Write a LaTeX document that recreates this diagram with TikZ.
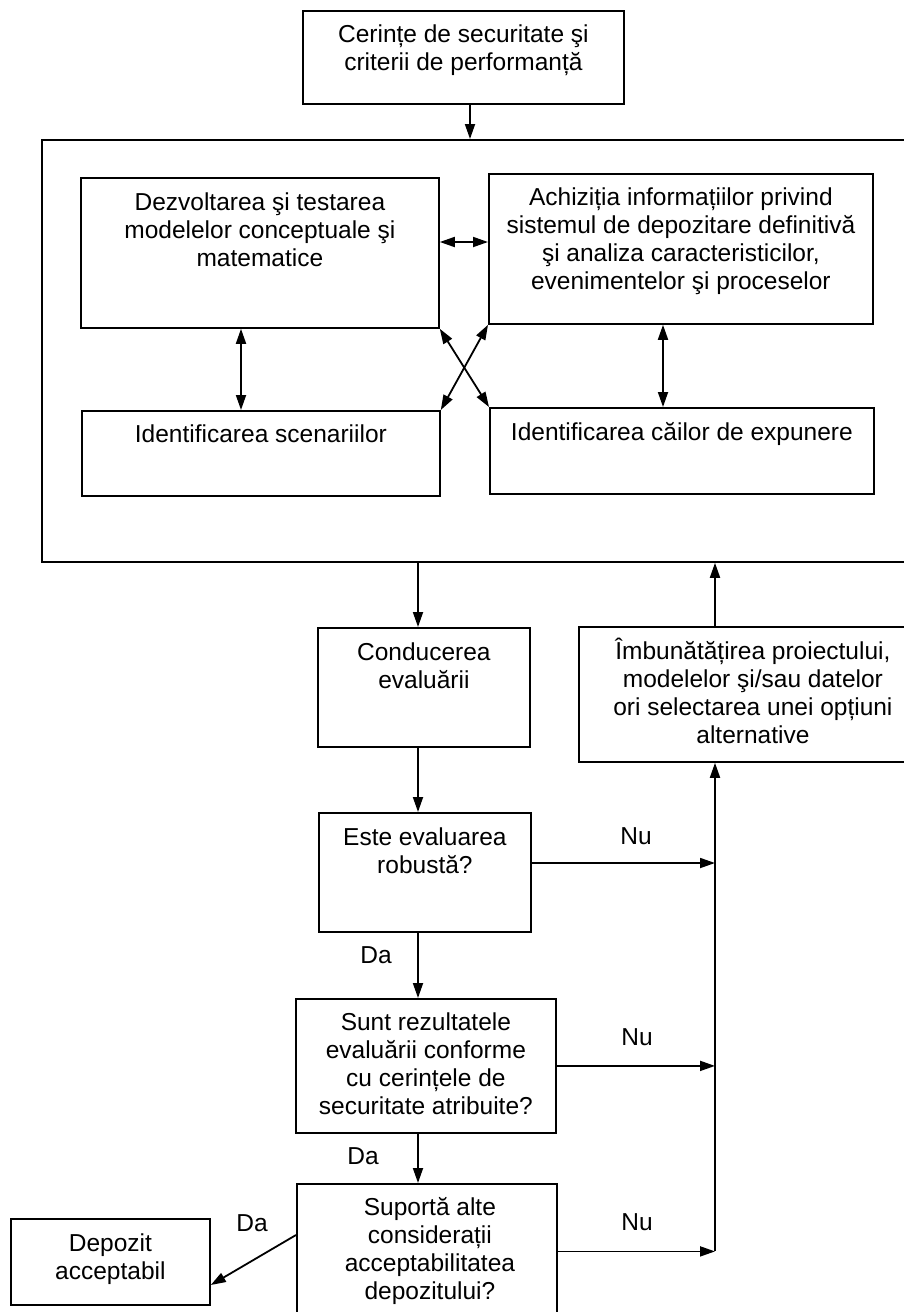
\documentclass[tikz,border=0pt]{standalone}
\usepackage{fontspec}
\setmainfont{Liberation Sans}
\usetikzlibrary{arrows.meta,positioning}

\begin{document}
\begin{tikzpicture}[x=1pt,y=-1pt,line width=1.8pt,
  box/.style={draw,inner sep=0pt,anchor=north west},
  txt/.style={font=\fontsize{24.5}{28}\selectfont,align=center,inner sep=0pt},
  >={Triangle[length=15pt,width=10pt]}]
\useasboundingbox (0,0) rectangle (904,1312);

% columns and rows used by the connectors
\coordinate (sus) at (470,0);
\coordinate (colA) at (241,0);
\coordinate (colB) at (663,0);
\coordinate (spine) at (418,0);
\coordinate (back) at (715,0);
\coordinate (rowAB) at (0,242);
\coordinate (rowE) at (0,863);
\coordinate (daA) at (0,1235);
\coordinate (daB) at (0,1285);

% top
\node[box,minimum width=321pt,minimum height=93pt] (cerinte) at (302,10) {};
\node[txt,below=14pt of cerinte.north] (cerintetxt) {Cerințe de securitate şi\\criterii de performanță};

% frame with the four boxes
\node[box,minimum width=866pt,minimum height=422pt] (cadru) at (41,139) {};
\node[box,minimum width=358pt,minimum height=150pt] (dezv) at (80,177) {};
\node[txt,below=15pt of dezv.north] (dezvtxt) {Dezvoltarea şi testarea\\modelelor conceptuale şi\\matematice};
\node[box,minimum width=384pt,minimum height=150pt] (achiz) at (488,173) {};
\node[txt,below=14pt of achiz.north] (achiztxt) {Achiziția informațiilor privind\\sistemul de depozitare definitivă\\şi analiza caracteristicilor,\\evenimentelor şi proceselor};
\node[box,minimum width=358pt,minimum height=85pt] (scen) at (81,410) {};
\node[txt,below=14pt of scen.north] (scentxt) {Identificarea scenariilor};
\node[box,minimum width=384pt,minimum height=86pt] (cai) at (489,407) {};
\node[txt,below=15pt of cai.north] (caitxt) {Identificarea căilor de expunere};

% evaluation chain
\node[box,minimum width=212pt,minimum height=119pt] (cond) at (317,627) {};
\node[txt,below=15pt of cond.north] (condtxt) {Conducerea\\evaluării};
\node[box,minimum width=330pt,minimum height=135pt] (impr) at (578,626) {};
\node[txt,below=11pt of impr.north,xshift=9pt] (imprtxt) {Îmbunătățirea proiectului,\\modelelor şi/sau datelor\\ori selectarea unei opțiuni\\alternative};
\node[box,minimum width=212pt,minimum height=119pt] (este) at (318,812) {};
\node[txt,below=15pt of este.north] (estetxt) {Este evaluarea\\robustă?};
\node[box,minimum width=260pt,minimum height=134pt] (sunt) at (295,998) {};
\node[txt,below=14pt of sunt.north] (sunttxt) {Sunt rezultatele\\evaluării conforme\\cu cerințele de\\securitate atribuite?};
\node[box,minimum width=260pt,minimum height=135pt] (supo) at (296,1183) {};
\node[txt,below=14pt of supo.north,xshift=3pt] (supotxt) {Suportă alte\\considerații\\acceptabilitatea\\depozitului?};
\node[box,minimum width=199pt,minimum height=86pt] (depo) at (10,1218) {};
\node[txt,below=15pt of depo.north] (depotxt) {Depozit\\acceptabil};

% answers
\foreach \nm/\x/\y/\t in {nu1/636/836/Nu,nu2/637/1037/Nu,nu3/637/1222/Nu,
    da1/376/955/Da,da2/363/1156/Da,da3/252/1223/Da}
  \node[txt] (\nm) at (\x,\y) {\t};

% connectors
\draw[->] (cerinte.south -| sus) -- (cadru.north -| sus);
\draw[<->] (dezv.east |- rowAB) -- (achiz.west |- rowAB);
\draw[<->] (dezv.south -| colA) -- (scen.north -| colA);
\draw[<->] (achiz.south -| colB) -- (cai.north -| colB);
\draw[<->] (dezv.south east) -- (cai.north west);
\draw[<->] (achiz.south west) -- (scen.north east);
\foreach \a/\b in {cadru/cond,cond/este,este/sunt,sunt/supo}
  \draw[->] (\a.south -| spine) -- (\b.north -| spine);
\draw[->] (este.east |- rowE) -- (back |- rowE);
\foreach \n in {sunt,supo}
  \draw[->] (\n.east) -- (\n.east -| back);
\draw[->] (supo.east -| back) -- (impr.south -| back);
\draw[->] (impr.north -| back) -- (cadru.south -| back);
\draw[->] (supo.west |- daA) -- (depo.east |- daB);
\end{tikzpicture}
\end{document}
